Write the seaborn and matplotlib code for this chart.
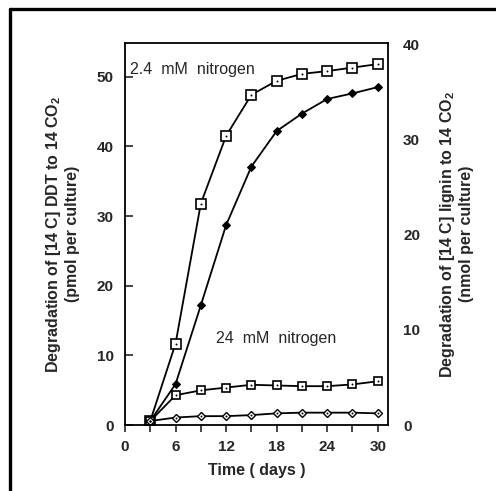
import matplotlib
matplotlib.use("Agg")
import matplotlib.pyplot as plt
from matplotlib.lines import Line2D
from matplotlib.ticker import MultipleLocator
import pandas as pd
import seaborn as sns

# Sampling days and cumulative 14CO2 evolved (left-axis units)
days = [3, 6, 9, 12, 15, 18, 21, 24, 27, 30]
low_n_squares = [0.6, 11.7, 31.8, 41.5, 47.4, 49.4, 50.4, 50.8, 51.3, 51.8]
low_n_diamonds = [0.6, 5.9, 17.2, 28.7, 37.1, 42.2, 44.7, 46.8, 47.6, 48.5]
high_n_squares = [0.6, 4.3, 5.0, 5.4, 5.8, 5.7, 5.6, 5.6, 5.85, 6.3]
high_n_diamonds = [0.6, 1.1, 1.3, 1.3, 1.45, 1.7, 1.8, 1.8, 1.8, 1.7]

x_ticks = [0, 6, 12, 18, 24, 30]
left_ticks = [0, 10, 20, 30, 40, 50]
right_ticks = [0, 10, 20, 30, 40]

sns.set_style("ticks")
plt.rcParams["font.family"] = ["Liberation Sans", "DejaVu Sans"]
plt.rcParams["mathtext.default"] = "regular"

fig = plt.figure(figsize=(4.96, 4.91), dpi=100)
ax = fig.add_axes([0.252, 0.134, 0.530, 0.778])

series = [
    (low_n_squares, dict(marker="s", markersize=7.2, markerfacecolor="white",
                         markeredgecolor="black", markeredgewidth=1.2)),
    (low_n_diamonds, dict(marker="D", markersize=4.4, markerfacecolor="black",
                          markeredgecolor="black")),
    (high_n_squares, dict(marker="s", markersize=5.4, markerfacecolor="white",
                          markeredgecolor="black", markeredgewidth=1.2)),
    (high_n_diamonds, dict(marker="D", markersize=4.0, markerfacecolor="white",
                           markeredgecolor="black", markeredgewidth=1.0)),
]
for values, style in series:
    df = pd.DataFrame({"day": days, "co2": values})
    sns.lineplot(data=df, x="day", y="co2", ax=ax, color="black",
                 linewidth=1.3, legend=False, **style)
    # small centre dot inside the open markers
    if style["markerfacecolor"] == "white":
        sns.scatterplot(data=df, x="day", y="co2", ax=ax, color="black",
                        s=2.0, linewidth=0, legend=False, zorder=5)

ax.set_xlim(0, 31.2)
ax.set_ylim(0, 54.8)
ax.set_xticks(x_ticks)
ax.xaxis.set_minor_locator(MultipleLocator(3))
ax.set_yticks(left_ticks)
for s in ax.spines.values():
    s.set_linewidth(1.3)
    s.set_color("black")
ax.tick_params(axis="x", which="both", direction="out", length=5, width=1.2,
               pad=6, labelsize=11)
ax.tick_params(axis="y", direction="in", length=6, width=1.2, pad=8,
               labelsize=11)
for lab in ax.get_xticklabels() + ax.get_yticklabels():
    lab.set_fontweight("bold")

ax.set_xlabel("Time ( days )", fontsize=11.5, fontweight="bold", labelpad=6)
ax.set_ylabel("Degradation of [14 C] DDT to 14 CO$_2$\n(pmol per culture)",
              fontsize=11.5, fontweight="bold", labelpad=12, linespacing=1.15)

ax2 = ax.twinx()
ax2.set_ylim(0, 40.1)
ax2.set_yticks(right_ticks)
ax2.tick_params(axis="y", length=0, pad=11, labelsize=11)
for lab in ax2.get_yticklabels():
    lab.set_fontweight("bold")
ax2.set_ylabel("Degradation of [14 C] lignin to 14 CO$_2$\n(nmol per culture)",
               fontsize=11.5, fontweight="bold", labelpad=13, linespacing=1.15)
for s in ax2.spines.values():
    s.set_visible(False)

ax.text(0.6, 51.0, "2.4  mM  nitrogen", fontsize=11.5, va="center", ha="left")
ax.text(10.8, 12.4, "24  mM  nitrogen", fontsize=11.5, va="center", ha="left")

# outer figure frame (top and left edges)
fig.add_artist(Line2D([0.020, 1.0], [0.982, 0.982], transform=fig.transFigure,
                      color="black", linewidth=2.4))
fig.add_artist(Line2D([0.020, 0.020], [0.0, 0.982], transform=fig.transFigure,
                      color="black", linewidth=2.4))

fig.savefig("out.png", dpi=100, facecolor="white")
